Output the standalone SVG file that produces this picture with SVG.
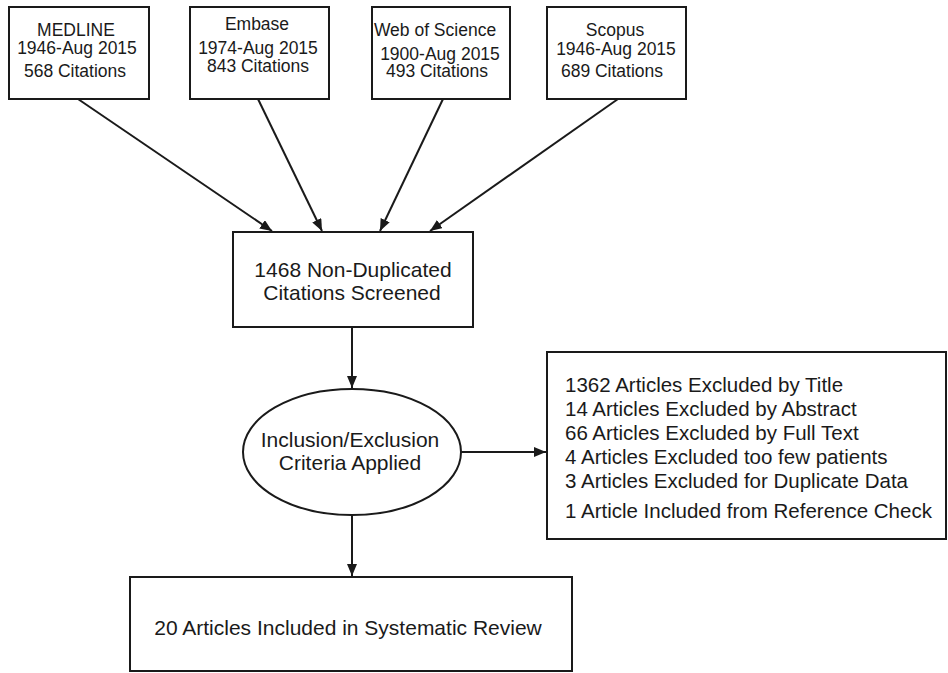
<svg xmlns="http://www.w3.org/2000/svg" width="948" height="673" viewBox="0 0 948 673">
<defs>
<marker id="ah" markerWidth="12" markerHeight="10" refX="12" refY="5" orient="auto" markerUnits="userSpaceOnUse">
<path d="M0,0 L12,5 L0,10 Z" fill="#1a1a1a"/>
</marker>
<style>
.box{fill:#fff;stroke:#1a1a1a;stroke-width:2}
.t{font-family:"Liberation Sans",Arial,sans-serif;fill:#1a1a1a;text-anchor:middle}
.s{font-size:17.5px}
.m{font-size:21px}
.l{font-family:"Liberation Sans",Arial,sans-serif;fill:#1a1a1a;font-size:20.5px}
.c{stroke:#1a1a1a;stroke-width:2;fill:none;marker-end:url(#ah)}
</style>
</defs>
<rect width="948" height="673" fill="#fff"/>
<g id="medline">
<rect class="box" x="9" y="7" width="140" height="92"/>
<text class="t s" x="76" y="36">MEDLINE</text>
<text class="t s" x="77" y="54">1946-Aug 2015</text>
<text class="t s" x="75" y="77">568 Citations</text>
</g>
<g id="embase">
<rect class="box" x="190" y="7" width="139" height="92"/>
<text class="t s" x="257" y="30">Embase</text>
<text class="t s" x="258" y="54">1974-Aug 2015</text>
<text class="t s" x="258" y="72">843 Citations</text>
</g>
<g id="wos">
<rect class="box" x="372" y="7" width="138" height="92"/>
<text class="t s" x="435" y="36">Web of Science</text>
<text class="t s" x="440" y="60">1900-Aug 2015</text>
<text class="t s" x="437" y="77">493 Citations</text>
</g>
<g id="scopus">
<rect class="box" x="547" y="7" width="139" height="92"/>
<text class="t s" x="615" y="36">Scopus</text>
<text class="t s" x="616" y="55">1946-Aug 2015</text>
<text class="t s" x="612" y="77">689 Citations</text>
</g>
<g id="screened">
<rect class="box" x="233" y="232" width="240" height="95"/>
<text class="t m" x="353" y="277">1468 Non-Duplicated</text>
<text class="t m" x="352" y="300">Citations Screened</text>
</g>
<g id="criteria">
<ellipse class="box" cx="352" cy="452" rx="109" ry="63"/>
<text class="t m" x="350" y="447">Inclusion/Exclusion</text>
<text class="t m" x="350" y="470">Criteria Applied</text>
</g>
<g id="excluded">
<rect class="box" x="547" y="352" width="399" height="187"/>
<text class="l" x="565" y="392">1362 Articles Excluded by Title</text>
<text class="l" x="565" y="416">14 Articles Excluded by Abstract</text>
<text class="l" x="565" y="440">66 Articles Excluded by Full Text</text>
<text class="l" x="565" y="464">4 Articles Excluded too few patients</text>
<text class="l" x="565" y="488">3 Articles Excluded for Duplicate Data</text>
<text class="l" x="565" y="518">1 Article Included from Reference Check</text>
</g>
<g id="included">
<rect class="box" x="130" y="577" width="442" height="94"/>
<text class="t m" x="348" y="635">20 Articles Included in Systematic Review</text>
</g>
<g id="connectors">
<line class="c" x1="78" y1="99" x2="272" y2="231"/>
<line class="c" x1="258" y1="99" x2="322" y2="231"/>
<line class="c" x1="443" y1="99" x2="380" y2="231"/>
<line class="c" x1="618" y1="99" x2="430" y2="231"/>
<line class="c" x1="352" y1="327" x2="352" y2="388"/>
<line class="c" x1="461" y1="452" x2="546" y2="452"/>
<line class="c" x1="352" y1="515" x2="352" y2="576"/>
</g>
</svg>
